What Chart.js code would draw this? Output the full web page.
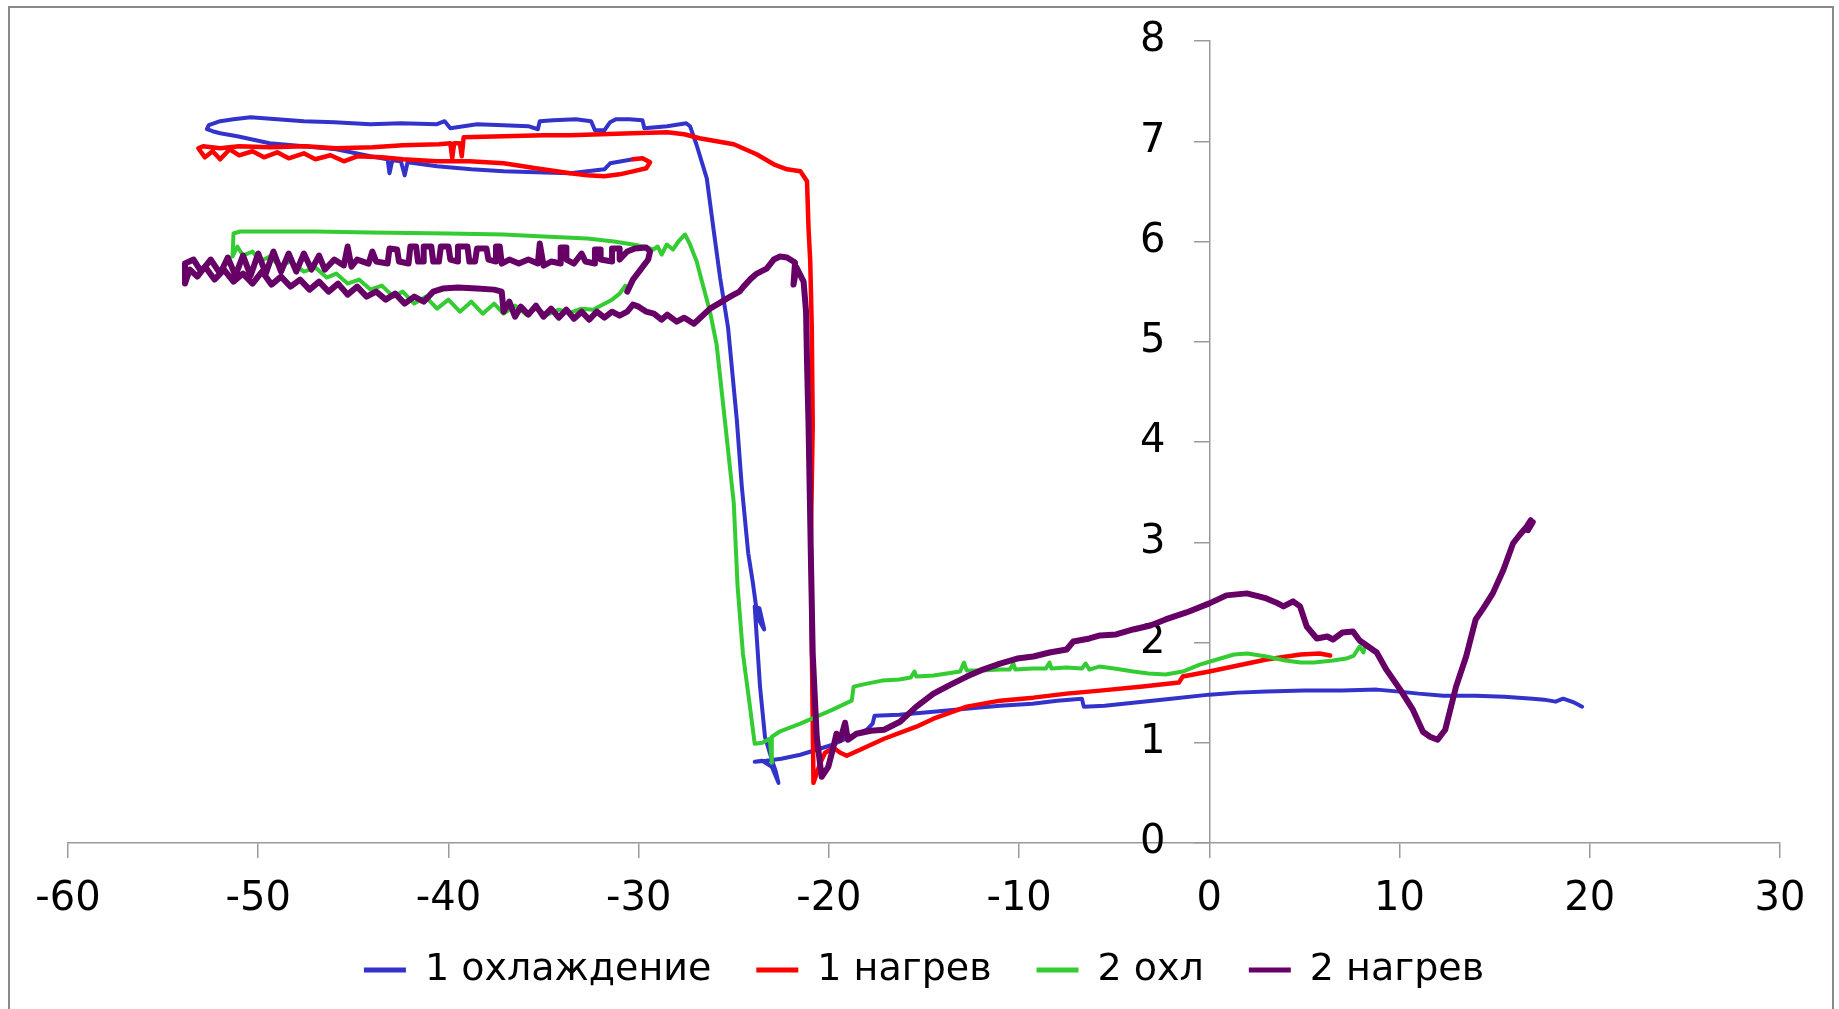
<!DOCTYPE html>
<html><head><meta charset="utf-8">
<script src="https://cdn.jsdelivr.net/npm/chart.js@4.4.1/dist/chart.umd.min.js"></script>
<style>
html,body{margin:0;padding:0;background:#fff;}
#wrap{position:relative;width:1839px;height:1009px;overflow:hidden;background:#fff;}
#frame{position:absolute;left:8px;top:6px;width:1826px;height:1012px;border:2px solid #8a8a8a;box-sizing:border-box;pointer-events:none;}
canvas{position:absolute;left:0;top:0;}
</style></head>
<body><div id="wrap"><canvas id="c" width="1839" height="1009"></canvas><div id="frame"></div></div>
<script>
const seriesNames = ["1 охлаждение", "1 нагрев", "2 охл", "2 нагрев"];
const seriesColors = ["#3333cc", "#ff0000", "#33cc33", "#660066"];

const blueX = [19.6,19.2,18.6,18.2,17.6,17.0,15.5,14.0,12.3,11.0,10.0,8.8,7.0,5.0,3.0,1.5,0.0,-2.0,-4.0,-5.5,-6.6,-6.7,-8.0,-9.3,-11.0,-12.8,-14.5,-16.3,-17.6,-17.7,-18.0,-19.0,-19.8,-21.5,-22.5,-23.3,-23.9,-23.5,-23.0,-22.65,-22.8,-23.0,-23.36,-23.62,-23.9,-23.65,-23.4,-23.75,-24.0,-24.24,-24.58,-24.84,-25.3,-25.72,-26.07,-26.42,-26.95,-27.3,-27.5,-28.5,-29.7,-29.8,-30.5,-31.2,-31.5,-31.8,-32.3,-32.5,-33.3,-34.5,-35.2,-35.3,-35.8,-37.1,-38.5,-39.9,-40.2,-40.6,-42.5,-44.1,-46.0,-47.6,-49.0,-50.4,-51.3,-52.0,-52.6,-52.7,-52.4,-52.0,-51.1,-49.4,-47.6,-45.9,-44.1,-43.2,-43.1,-42.95,-42.5,-42.3,-42.15,-40.6,-38.8,-37.1,-35.4,-33.6,-31.8,-31.5,-30.9,-30.3];
const blueY = [1.36,1.4,1.44,1.41,1.43,1.44,1.46,1.47,1.47,1.49,1.51,1.53,1.52,1.52,1.51,1.5,1.48,1.44,1.4,1.37,1.36,1.44,1.42,1.39,1.37,1.34,1.31,1.28,1.27,1.19,1.13,1.05,0.98,0.88,0.84,0.82,0.81,0.82,0.76,0.6,0.72,0.83,1.06,1.56,2.36,2.34,2.13,2.25,2.6,2.89,3.56,4.22,5.14,5.64,6.13,6.63,6.96,7.15,7.18,7.15,7.13,7.21,7.22,7.22,7.19,7.11,7.11,7.2,7.22,7.21,7.2,7.12,7.15,7.16,7.17,7.13,7.2,7.17,7.18,7.17,7.19,7.2,7.22,7.24,7.22,7.2,7.16,7.12,7.1,7.08,7.05,6.98,6.95,6.92,6.85,6.82,6.68,6.81,6.8,6.66,6.79,6.75,6.72,6.7,6.69,6.68,6.72,6.78,6.8,6.82];

const redX = [-30.3,-29.8,-29.4,-29.6,-30.3,-31.0,-31.8,-32.7,-33.6,-35.4,-37.1,-38.9,-40.6,-42.4,-43.5,-44.8,-45.5,-46.2,-47.0,-47.6,-48.4,-49.0,-49.7,-50.3,-51.0,-51.5,-52.0,-52.4,-52.8,-53.15,-52.9,-52.0,-51.0,-49.4,-47.5,-45.9,-44.0,-42.4,-40.5,-39.9,-39.8,-39.7,-39.4,-39.3,-39.2,-37.1,-35.0,-33.6,-32.0,-30.3,-28.5,-27.6,-26.8,-25.9,-25.0,-23.8,-22.9,-22.2,-21.5,-21.15,-21.07,-20.98,-20.9,-20.85,-20.95,-20.9,-20.85,-20.81,-20.45,-20.2,-19.76,-19.4,-19.06,-18.36,-17.1,-15.4,-14.5,-12.75,-11.0,-9.25,-7.5,-5.75,-3.5,-1.6,-1.4,0.0,1.5,3.0,4.8,5.8,6.35];
const redY = [6.82,6.83,6.79,6.73,6.7,6.67,6.65,6.66,6.68,6.73,6.78,6.8,6.8,6.82,6.84,6.85,6.8,6.86,6.82,6.88,6.83,6.89,6.84,6.9,6.86,6.92,6.82,6.9,6.84,6.93,6.95,6.93,6.95,6.94,6.95,6.93,6.94,6.96,6.97,6.98,6.83,6.98,6.98,6.85,7.04,7.05,7.06,7.06,7.07,7.08,7.09,7.07,7.03,7.0,6.97,6.87,6.77,6.72,6.7,6.6,6.13,5.8,5.14,4.17,3.0,2.0,1.2,0.6,0.8,0.9,0.95,0.9,0.87,0.93,1.04,1.16,1.24,1.36,1.42,1.45,1.49,1.52,1.56,1.6,1.66,1.71,1.77,1.83,1.88,1.89,1.87];

const greenX = [8.2,8.1,7.9,7.6,7.2,6.5,5.5,4.8,4.0,3.0,2.0,1.3,0.4,-0.5,-1.4,-2.3,-3.2,-4.0,-5.0,-5.8,-6.3,-6.5,-6.7,-7.5,-8.3,-8.4,-8.6,-9.3,-10.2,-10.3,-10.5,-11.0,-12.0,-12.75,-12.9,-13.1,-14.5,-15.4,-15.5,-15.7,-16.3,-17.2,-18.0,-18.7,-18.8,-19.8,-21.5,-22.6,-23.0,-23.0,-23.1,-23.5,-23.9,-24.17,-24.52,-24.8,-25.0,-25.46,-25.9,-26.25,-26.77,-26.95,-27.3,-27.56,-27.91,-28.2,-28.52,-28.79,-29.0,-29.23,-29.75,-30.3,-31.3,-32.7,-35.0,-37.1,-40.0,-44.1,-47.0,-49.4,-50.96,-51.3,-51.35,-51.1,-50.8,-50.3,-49.9,-49.4,-48.9,-48.3,-47.6,-47.0,-46.4,-45.9,-45.3,-44.7,-44.1,-43.5,-42.9,-42.4,-41.8,-41.2,-40.6,-40.0,-39.4,-38.8,-38.2,-37.6,-37.1,-36.5,-35.9,-35.4,-34.8,-34.2,-33.6,-33.0,-32.4,-31.8,-31.4,-31.0,-30.7];
const greenY = [1.98,1.9,1.96,1.87,1.84,1.82,1.8,1.8,1.82,1.86,1.89,1.88,1.83,1.78,1.71,1.68,1.69,1.71,1.74,1.76,1.73,1.79,1.74,1.75,1.74,1.8,1.74,1.74,1.73,1.79,1.73,1.73,1.72,1.72,1.8,1.71,1.67,1.66,1.71,1.65,1.63,1.62,1.59,1.56,1.42,1.33,1.19,1.11,1.06,0.8,1.04,1.0,0.99,1.39,1.89,2.56,3.39,4.2,4.97,5.3,5.67,5.8,5.97,6.07,6.0,5.92,5.97,5.87,5.95,5.92,5.95,5.97,6.0,6.03,6.05,6.07,6.08,6.09,6.1,6.1,6.1,6.08,5.85,5.95,5.86,5.9,5.8,5.85,5.76,5.8,5.7,5.74,5.64,5.68,5.58,5.62,5.52,5.56,5.45,5.5,5.38,5.45,5.33,5.42,5.3,5.4,5.28,5.38,5.28,5.36,5.27,5.33,5.27,5.32,5.29,5.33,5.32,5.38,5.42,5.48,5.56];

const purpleX = [-30.6,-30.3,-29.9,-29.5,-29.4,-29.6,-30.2,-30.6,
  -31.0,-31.0,-31.4,-31.4,-32.0,-32.0,-32.3,-32.3,-32.8,-33.0,-33.4,-33.8,-33.8,-34.1,-34.1,-34.6,-35.0,-35.2,-35.3,-35.8,-36.3,-36.8,-37.2,-37.3,-37.5,-37.5,-37.9,-38.0,-38.5,-38.6,-38.9,-39.0,-39.5,-39.5,-39.9,-40.0,-40.4,-40.5,-40.8,-40.9,-41.3,-41.3,-41.6,-41.7,-42.0,-42.1,-42.6,-42.7,-43.1,-43.2,-43.8,-44.0,-44.2,-44.8,-45.1,-45.3,-45.5,-46.0,-46.5,-46.8,-47.2,-47.6,-48.0,-48.4,-48.8,-49.2,-49.6,-50.0,-50.4,-50.8,-51.2,-51.6,-52.0,-52.5,-53.0,-53.4,-53.85,-53.85,-53.6,
  -53.2,-52.8,-52.3,-51.8,-51.3,-50.8,-50.3,-49.8,-49.3,-48.8,-48.3,-47.8,-47.3,-46.8,-46.3,-45.8,-45.3,-44.8,-44.3,-43.8,-43.3,-42.8,-42.3,-41.8,-41.3,-40.8,-40.3,-39.5,-38.5,-37.6,-37.2,-37.1,-36.8,-36.5,-36.2,-35.8,-35.4,-35.0,-34.6,-34.2,-33.8,-33.4,-33.0,-32.6,-32.2,-31.8,-31.4,-31.0,-30.6,-30.3,-30.0,-29.6,-29.2,-28.8,-28.5,-28.0,-27.6,-27.1,-26.7,-26.25,-25.8,-25.37,-25.0,-24.7,-24.49,-24.1,-23.79,-23.27,-22.9,-22.57,-22.2,-21.78,-21.86,-21.7,-21.33,-21.2,-21.15,-21.07,-20.95,-20.85,-20.64,-20.38,-20.03,-19.76,-19.6,-19.4,-19.15,-19.0,-18.55,-17.8,-17.1,-16.26,-15.4,-14.5,-13.6,-12.75,-11.9,-11.0,-10.1,-9.25,-8.4,-7.5,-7.15,-6.3,-5.75,-4.9,-4.0,-3.1,-2.3,-1.2,0.0,0.9,1.97,2.6,3.0,3.5,3.9,4.4,4.77,5.12,5.65,6.2,6.5,7.0,7.55,7.9,8.8,9.3,10.0,10.7,11.23,11.6,12.0,12.4,12.97,13.5,14.0,14.4,14.9,15.45,15.97,16.3,16.7,16.9,16.75,17.0];
const purpleY = [5.5,5.62,5.72,5.82,5.9,5.94,5.93,5.9,
  5.82,5.93,5.93,5.8,5.82,5.92,5.92,5.78,5.8,5.88,5.78,5.82,5.94,5.94,5.78,5.8,5.76,5.98,5.78,5.82,5.78,5.82,5.78,5.95,5.95,5.8,5.82,5.93,5.93,5.8,5.8,5.95,5.95,5.8,5.82,5.95,5.95,5.8,5.8,5.95,5.95,5.8,5.8,5.95,5.95,5.78,5.8,5.92,5.93,5.78,5.8,5.9,5.78,5.82,5.75,5.95,5.76,5.82,5.72,5.86,5.72,5.88,5.7,5.88,5.7,5.9,5.68,5.88,5.66,5.86,5.66,5.84,5.68,5.82,5.7,5.82,5.78,5.58,5.72,
  5.65,5.75,5.62,5.72,5.6,5.68,5.58,5.7,5.57,5.65,5.55,5.62,5.52,5.6,5.5,5.58,5.47,5.55,5.45,5.5,5.42,5.48,5.38,5.45,5.4,5.5,5.53,5.54,5.53,5.52,5.5,5.3,5.4,5.25,5.35,5.27,5.36,5.25,5.33,5.24,5.32,5.23,5.3,5.22,5.3,5.24,5.3,5.26,5.3,5.37,5.35,5.3,5.28,5.22,5.27,5.2,5.24,5.18,5.25,5.33,5.38,5.43,5.47,5.5,5.55,5.63,5.68,5.73,5.82,5.85,5.84,5.79,5.57,5.74,5.6,5.3,4.8,4.17,2.89,1.89,1.06,0.66,0.76,0.96,1.09,1.03,1.2,1.03,1.09,1.12,1.13,1.21,1.36,1.49,1.58,1.66,1.73,1.79,1.84,1.86,1.9,1.93,2.01,2.04,2.07,2.08,2.13,2.17,2.23,2.3,2.39,2.47,2.49,2.46,2.44,2.4,2.36,2.41,2.36,2.16,2.04,2.06,2.03,2.1,2.11,2.02,1.9,1.73,1.54,1.33,1.11,1.06,1.03,1.13,1.56,1.86,2.23,2.34,2.49,2.72,2.99,3.07,3.16,3.22,3.12,3.2];

const xMin = -60, xMax = 30, xStep = 10;
const yMin = 0, yMax = 8, yStep = 1;

function pts(xs, ys) { return xs.map((x, i) => ({x: x, y: ys[i]})); }

const seriesData = [pts(blueX, blueY), pts(redX, redY), pts(greenX, greenY), pts(purpleX, purpleY)];
const widths = [4, 4.5, 4, 6];
const drawOrder = [4, 3, 2, 1];

const datasets = seriesNames.map((name, i) => ({
  label: name,
  data: seriesData[i],
  showLine: true,
  borderColor: seriesColors[i],
  backgroundColor: seriesColors[i],
  borderWidth: widths[i],
  pointRadius: 0,
  pointHoverRadius: 0,
  pointHitRadius: 0,
  tension: 0,
  borderJoinStyle: 'round',
  borderCapStyle: 'round',
  order: drawOrder[i]
}));

const axisGray = '#9a9a9a';
const tickFont = {family: 'DejaVu Sans', size: 40};
// trailing spaces push the right-aligned y labels away from the centred axis
const yLabelGap = '\u2002\u2002\u200A';

new Chart(document.getElementById('c'), {
  type: 'scatter',
  data: {datasets: datasets},
  options: {
    responsive: false,
    animation: false,
    devicePixelRatio: 1,
    layout: {padding: {left: 68, right: 59, top: 41, bottom: 10}},
    plugins: {
      tooltip: {enabled: false},
      legend: {
        position: 'bottom',
        labels: {
          font: {family: 'DejaVu Sans', size: 38},
          color: '#000',
          boxWidth: 42,
          boxHeight: 5,
          padding: 45,
          sort: (a, b) => a.datasetIndex - b.datasetIndex,
          generateLabels: (chart) => Chart.defaults.plugins.legend.labels.generateLabels(chart).map(l => Object.assign(l, {lineWidth: 0}))
        }
      }
    },
    scales: {
      x: {
        type: 'linear', min: xMin, max: xMax,
        ticks: {stepSize: xStep, font: tickFont, color: '#000', padding: 18, maxRotation: 0, callback: v => String(v)},
        grid: {drawOnChartArea: false, drawTicks: true, tickLength: 15, color: axisGray, lineWidth: 1.5},
        border: {display: true, color: axisGray, width: 1.5},
        afterFit: s => { s.height = 63; s.paddingLeft = 0; s.paddingRight = 0; s._computeLabelArea = () => undefined; }
      },
      y: {
        type: 'linear', min: yMin, max: yMax,
        position: {x: 0},
        ticks: {stepSize: yStep, font: tickFont, color: '#000', padding: 32, callback: v => String(v) + yLabelGap},
        grid: {drawOnChartArea: false, drawTicks: true, tickLength: 15, color: axisGray, lineWidth: 1.5},
        border: {display: true, color: axisGray, width: 1.5},
        afterFit: s => { s.width = 0; s.paddingTop = 0; s.paddingBottom = 0; s._computeLabelArea = () => undefined; }
      }
    }
  }
});
</script>
</body></html>
